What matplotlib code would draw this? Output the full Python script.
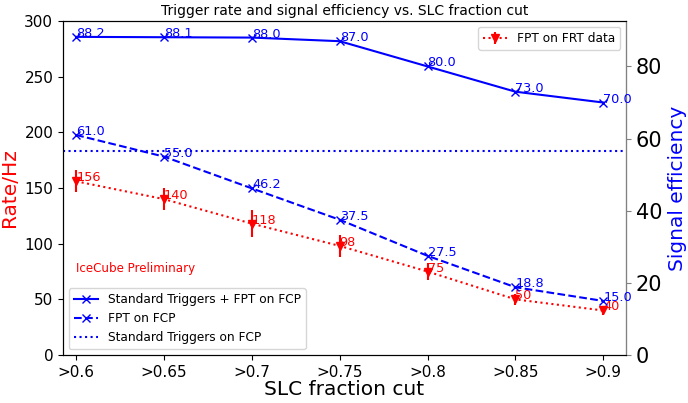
import matplotlib
matplotlib.use('Agg')
import matplotlib.pyplot as plt

# Cortes de fraccion SLC
cortes = ['>0.6', '>0.65', '>0.7', '>0.75', '>0.8', '>0.85', '>0.9']

# Tasa de disparo (Hz) y errores
tasa = [156, 140, 118, 98, 75, 50, 40]
tasa_err = [10, 10, 12, 10, 8, 5, 4]

# Eficiencia de senal (%)
ef_std_fpt = [88.2, 88.1, 88.0, 87.0, 80.0, 73.0, 70.0]
ef_fpt = [61.0, 55.0, 46.2, 37.5, 27.5, 18.8, 15.0]
ef_std = 56.5

x = list(range(len(cortes)))

fig, ax1 = plt.subplots(figsize=(6.88, 4.03), dpi=100)
fig.subplots_adjust(left=0.0916, right=0.91, bottom=0.119, top=0.948)

ax1.errorbar(x, tasa, yerr=tasa_err, fmt='v:', color='red', label='FPT on FRT data')
for xi, v in zip(x, tasa):
    ax1.text(xi, v, str(v), color='red', fontsize=9.3)
ax1.text(0, 75, 'IceCube Preliminary', color='red', fontsize=8.6)
ax1.set_ylim(0, 300)
ax1.set_xlim(-0.15, 6.26)
ax1.set_xticks(x)
ax1.set_xticklabels(cortes, fontsize=11)
ax1.tick_params(axis='y', labelsize=11)
ax1.set_ylabel('Rate/Hz', color='red', fontsize=14.5)
ax1.set_xlabel('SLC fraction cut', fontsize=14.5, labelpad=0)
ax1.set_title('Trigger rate and signal efficiency vs. SLC fraction cut', fontsize=10, pad=4)

ax2 = ax1.twinx()
ax2.plot(x, ef_std_fpt, 'x-', color='blue', label='Standard Triggers + FPT on FCP')
ax2.plot(x, ef_fpt, 'x--', color='blue', label='FPT on FCP')
ax2.axhline(ef_std, color='blue', linestyle=':', label='Standard Triggers on FCP')
for xi, v in zip(x, ef_std_fpt):
    ax2.text(xi, v, '%.1f' % v, color='blue', fontsize=9.3)
for xi, v in zip(x, ef_fpt):
    ax2.text(xi, v, '%.1f' % v, color='blue', fontsize=9.3)
ax2.set_ylim(0, max(ef_std_fpt) * 1.05)
ax2.set_ylabel('Signal efficiency', color='blue', fontsize=14.5)
ax2.tick_params(axis='y', labelsize=15, color='gray')
ax2.spines['right'].set_color('gray')

ax1.legend(loc='upper right', fontsize=8.7)
ax2.legend(loc='lower left', fontsize=8.7)

fig.savefig('out.png')
